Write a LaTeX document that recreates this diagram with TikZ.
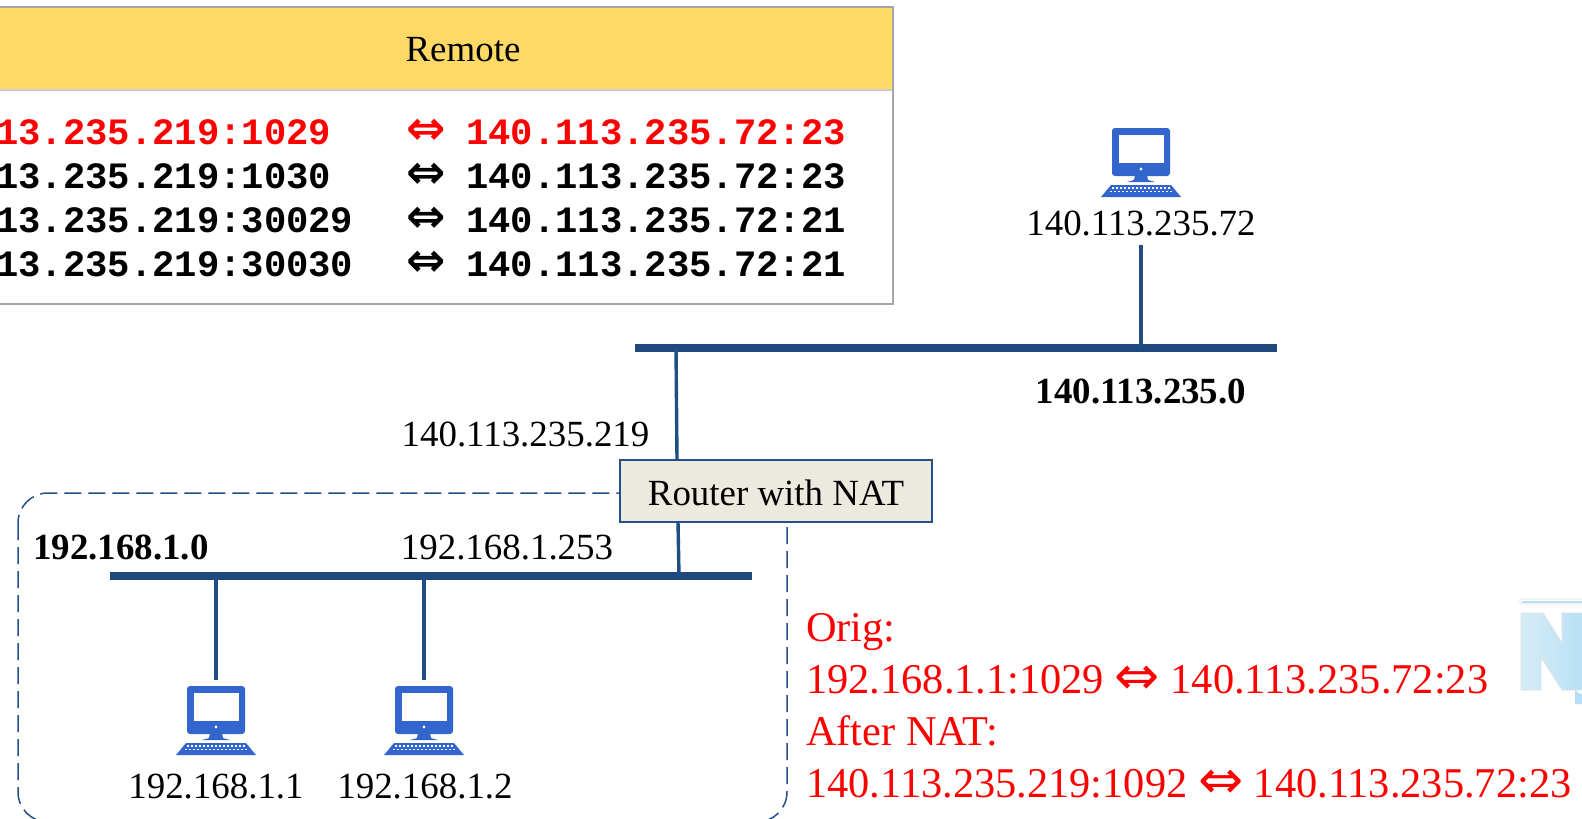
\documentclass[tikz,border=0pt]{standalone}
\usepackage{fontspec}
\setmainfont{Liberation Serif}
\setmonofont{Liberation Mono}
\newfontfamily\arrowfont{DejaVu Sans}
\usetikzlibrary{shadings}
\definecolor{busblue}{HTML}{1F497D}
\definecolor{linkblue}{HTML}{1F4E85}
\definecolor{pcblue}{HTML}{3366CC}
\definecolor{headgold}{HTML}{FFD966}
\definecolor{tablegrey}{HTML}{A6A6A6}
\definecolor{routerfill}{HTML}{ECEADF}
\definecolor{dashblue}{HTML}{254F88}
\definecolor{logoA}{HTML}{D6ECF8}
\definecolor{logoB}{HTML}{B5DFF4}
\newcommand{\labelsize}{\fontsize{36.9}{44}\selectfont}
\newcommand{\redsize}{\fontsize{42.4}{50}\selectfont}
\newcommand{\monosize}{\fontsize{37.2}{44}\selectfont\ttfamily\bfseries}
\newcommand{\dblarrow}{\raisebox{0pt}{\fontsize{47}{50}\selectfont\arrowfont\bfseries ⇔}}
\newcommand{\redarrow}{\raisebox{-1pt}{\fontsize{54}{54}\selectfont\arrowfont ⇔}}
\tikzset{
  x=1pt,y=-1pt,
  netlabel/.style={font=\labelsize,inner sep=0pt,text=black},
  boldlabel/.style={font=\labelsize\bfseries,inner sep=0pt,text=black},
  redline/.style={font=\redsize,inner sep=0pt,text=red,anchor=base west},
  row/.style={font=\monosize,inner sep=0pt,anchor=base west},
  busbar/.style={fill=busblue,inner sep=0pt,minimum height=8pt},
  link/.style={draw=linkblue,line width=3.4pt},
  routerbox/.style={draw=dashblue,line width=1.8pt,fill=routerfill,minimum width=312pt,minimum height=62pt,inner sep=0pt,font=\labelsize},
  pcspot/.style={inner sep=0pt,minimum width=80pt,minimum height=69pt},
  pcicon/.pic={
    \fill[pcblue,rounded corners=3pt] (-29,0) rectangle (29,48);
    \fill[white] (-22.5,7) rectangle (22.5,35);
    \fill[white] (0,41) circle (1.7);
    \fill[pcblue] (-6,47) -- (6,47) -- (7,52) -- (14,54) -- (-14,54) -- (-7,52) -- cycle;
    \fill[pcblue] (-30,57) -- (30,57) -- (40,69) -- (-40,69) -- cycle;
    \foreach \px in {-28,-24,...,28} {\fill[white] (\px-1.3,59.3) rectangle (\px+1.3,60.8);}
    \foreach \px in {-30,-26,...,30} {\fill[white] (\px-1.3,62.6) rectangle (\px+1.3,64.1);}
  }
}
\begin{document}
\begin{tikzpicture}
\useasboundingbox (0,0) rectangle (1582,819);
\fill[white] (0,0) rectangle (1582,819);

% logo fragment
\draw[black!12,line width=.8pt,rounded corners=1pt] (1520,599) rectangle (1590,604);
\fill[logoB] (1522,601) rectangle (1590,602.5);
\path[draw=black!12,line width=.8pt,left color=logoA,right color=logoB]
  (1521,613) -- (1543,613) -- (1562,643) -- (1562,613) -- (1590,613) -- (1590,690) -- (1562,690) -- (1541,657) -- (1541,690) -- (1521,690) -- cycle;
\fill[logoB] (1582,694) arc (90:180:7) -- (1575,704) -- (1582,704) -- cycle;

% table
\fill[headgold] (-3,7) rectangle (893,90);
\draw[tablegrey!60,line width=1.5pt] (-3,90) -- (893,90);
\draw[tablegrey,line width=2pt] (-3,7) -- (893,7) -- (893,304) -- (-3,304);
\node[netlabel] (remote) at (463,50) {Remote};

\node[row,text=red] (l1) at (-4,144) {13.235.219:1029};
\node[row] (l2) at (-4,188) {13.235.219:1030};
\node[row] (l3) at (-4,232) {13.235.219:30029};
\node[row] (l4) at (-4,276) {13.235.219:30030};
\node[row,text=red,anchor=base] (a1) at (426,144) {\dblarrow};
\node[row,anchor=base] (a2) at (426,188) {\dblarrow};
\node[row,anchor=base] (a3) at (426,232) {\dblarrow};
\node[row,anchor=base] (a4) at (426,276) {\dblarrow};
\node[row,text=red] (r1) at (466,144) {140.113.235.72:23};
\node[row] (r2) at (466,188) {140.113.235.72:23};
\node[row] (r3) at (466,232) {140.113.235.72:21};
\node[row] (r4) at (466,276) {140.113.235.72:21};

% dashed private network
\draw[dashblue,line width=1.5pt,dash pattern=on 17pt off 7pt,rounded corners=30pt] (18,493) rectangle (787,822);

% buses
\node[busbar,minimum width=642pt] (busA) at (956,348) {};
\node[busbar,minimum width=642pt] (busB) at (431,576) {};

% computers
\node[pcspot] (pcR) at (1141,162.5) {};
\pic at (1141,128) {pcicon};
\node[pcspot] (pc1) at (216,720.5) {};
\pic at (216,686) {pcicon};
\node[pcspot] (pc2) at (424,720.5) {};
\pic at (424,686) {pcicon};

% router
\node[routerbox] (router) at (776,491) {\raisebox{-1.5pt}[\height][\depth]{Router with NAT}};

% connectors
\coordinate (hostdrop) at (1141,245);
\coordinate (hostbus) at (1141,348);
\draw[link] (hostdrop) -- (hostbus);
\coordinate (upA) at (676,348);
\coordinate (upB) at (677,460);
\draw[link] (upA) -- (upB);
\coordinate (dnA) at (678,522);
\coordinate (dnB) at (679,576);
\draw[link] (dnA) -- (dnB);
\coordinate (b1) at (216,576);
\coordinate (b2) at (424,576);
\coordinate (t1) at (216,680);
\coordinate (t2) at (424,680);
\draw[link] (b1) -- (t1);
\draw[link] (b2) -- (t2);

% labels
\node[netlabel] (lhost) at (1141,223) {140.113.235.72};
\node[boldlabel] (lnetA) at (1141,391) {140.113.235.0};
\node[netlabel] (lwan) at (525.5,434) {140.113.235.219};
\node[boldlabel,anchor=west] (lnetB) at (33,547) {192.168.1.0};
\node[netlabel] (llan) at (507,547) {192.168.1.253};
\node[netlabel] (lp1) at (216,786) {192.168.1.1};
\node[netlabel] (lp2) at (425,786) {192.168.1.2};

% red note
\node[redline] (o1) at (806,641) {Orig:};
\node[redline] (o2) at (806,693.5) {192.168.1.1:1029 \redarrow{} 140.113.235.72:23};
\node[redline] (o3) at (806,745.5) {After NAT:};
\node[redline] (o4) at (806,797.5) {140.113.235.219:1092 \redarrow{} 140.113.235.72:23};
\end{tikzpicture}
\end{document}
